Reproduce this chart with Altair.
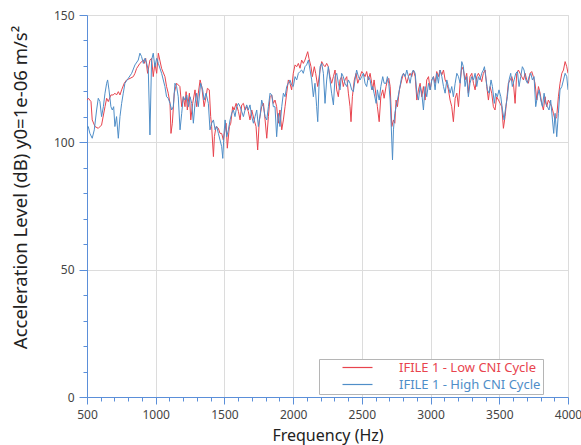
import altair as alt
import pandas as pd

LOW = "IFILE 1 - Low CNI Cycle"
HIGH = "IFILE 1 - High CNI Cycle"

# (frequency Hz, level dB)
low_cni = [
    (500, 116.5), (510, 117.3), (529, 116.0), (538, 108.8), (558, 106.2), (582, 105.5), (606, 106.8),
    (631, 114.0), (643, 117.3), (655, 116.0), (674, 118.6), (691, 118.6), (703, 119.3), (715, 118.6),
    (728, 119.9), (740, 118.6), (752, 120.6), (771, 123.2), (788, 124.5), (813, 125.1), (837, 125.8),
    (849, 127.1), (861, 129.0), (885, 131.0), (910, 132.3), (917, 131.0), (927, 133.0), (941, 127.1),
    (958, 132.3), (970, 133.0), (982, 125.8), (994, 131.0), (1007, 127.1), (1019, 135.0), (1043, 129.0),
    (1067, 125.8), (1079, 121.9), (1091, 119.3), (1104, 115.3), (1111, 103.5), (1121, 107.5), (1135, 119.3),
    (1152, 123.2), (1176, 121.9), (1189, 114.0), (1201, 117.9), (1213, 114.0), (1221, 119.9), (1230, 112.7),
    (1245, 119.3), (1255, 108.8), (1269, 115.3), (1286, 120.6), (1298, 114.0), (1310, 119.3), (1323, 124.5),
    (1335, 121.9), (1352, 114.0), (1366, 117.9), (1376, 121.2), (1390, 120.6), (1400, 110.1), (1407, 106.2),
    (1420, 94.4), (1427, 102.2), (1439, 106.2), (1456, 105.5), (1468, 103.5), (1480, 103.5), (1492, 100.9),
    (1512, 107.5), (1521, 97.7), (1536, 106.2), (1546, 107.5), (1560, 114.0), (1570, 112.7), (1585, 115.3),
    (1602, 112.1), (1614, 108.8), (1626, 114.7), (1638, 115.3), (1650, 112.7), (1662, 114.0), (1674, 112.1),
    (1686, 108.8), (1699, 112.7), (1716, 108.8), (1730, 106.2), (1742, 97.0), (1754, 108.8), (1771, 114.0),
    (1784, 115.3), (1796, 108.8), (1808, 101.6), (1820, 110.1), (1832, 117.9), (1844, 118.6), (1856, 115.3),
    (1868, 116.6), (1880, 114.0), (1892, 107.5), (1904, 112.7), (1917, 104.9), (1929, 108.8), (1941, 114.0),
    (1953, 119.3), (1965, 124.5), (1977, 123.2), (1989, 120.6), (2001, 127.1), (2014, 130.4), (2026, 129.7),
    (2038, 131.0), (2050, 129.1), (2062, 132.3), (2074, 131.0), (2086, 132.3), (2098, 134.3), (2106, 135.6),
    (2115, 133.0), (2130, 129.7), (2140, 125.8), (2154, 129.7), (2164, 127.1), (2179, 121.9), (2196, 128.4),
    (2208, 131.7), (2220, 130.4), (2232, 129.7), (2244, 131.0), (2256, 129.7), (2268, 125.8), (2280, 123.2),
    (2293, 125.8), (2305, 128.4), (2317, 120.6), (2329, 117.9), (2341, 124.5), (2353, 125.8), (2365, 121.9),
    (2377, 124.5), (2390, 125.8), (2402, 119.3), (2414, 114.0), (2421, 108.1), (2431, 117.9), (2445, 124.5),
    (2458, 127.1), (2470, 123.2), (2487, 125.8), (2499, 127.8), (2511, 127.1), (2523, 125.8), (2535, 127.8),
    (2547, 124.5), (2560, 127.1), (2572, 123.2), (2579, 120.6), (2589, 124.5), (2604, 117.9), (2613, 114.0),
    (2626, 108.1), (2638, 117.9), (2652, 120.6), (2662, 117.3), (2676, 121.9), (2686, 124.5), (2696, 125.1),
    (2706, 121.9), (2718, 106.2), (2730, 108.8), (2740, 107.5), (2749, 116.6), (2759, 114.0), (2773, 120.6),
    (2790, 124.5), (2803, 127.1), (2815, 125.8), (2827, 123.2), (2839, 125.8), (2851, 127.1), (2863, 125.8),
    (2875, 128.4), (2888, 125.8), (2900, 116.6), (2912, 120.6), (2924, 123.2), (2936, 117.9), (2948, 121.9),
    (2960, 116.6), (2972, 124.5), (2985, 125.8), (2997, 120.6), (3009, 124.5), (3021, 125.8), (3033, 123.2),
    (3045, 127.8), (3057, 125.8), (3069, 128.4), (3082, 126.5), (3094, 128.4), (3106, 124.5), (3118, 123.2),
    (3130, 120.6), (3142, 116.6), (3154, 114.0), (3166, 108.1), (3179, 117.3), (3191, 119.3), (3203, 114.0),
    (3215, 123.2), (3227, 129.7), (3239, 128.4), (3251, 124.5), (3263, 127.1), (3275, 119.3), (3287, 125.8),
    (3300, 127.1), (3312, 123.2), (3324, 120.6), (3336, 125.8), (3348, 127.1), (3360, 125.8), (3372, 123.8),
    (3384, 127.1), (3397, 128.4), (3409, 121.9), (3421, 116.6), (3433, 121.9), (3445, 119.3), (3457, 114.0),
    (3469, 112.7), (3481, 117.9), (3494, 116.6), (3506, 115.3), (3518, 114.0), (3530, 105.5), (3542, 110.1),
    (3554, 116.6), (3566, 123.2), (3579, 124.5), (3591, 125.8), (3603, 123.2), (3615, 115.3), (3627, 127.1),
    (3639, 128.4), (3651, 127.1), (3663, 125.8), (3676, 124.5), (3688, 127.1), (3700, 124.5), (3712, 123.2),
    (3724, 127.1), (3736, 127.8), (3748, 125.8), (3760, 123.2), (3773, 116.6), (3785, 121.9), (3797, 119.3),
    (3809, 115.3), (3821, 112.7), (3833, 117.9), (3845, 114.0), (3857, 116.6), (3870, 115.3), (3882, 114.0),
    (3894, 111.4), (3906, 108.8), (3918, 110.1), (3930, 117.9), (3942, 123.2), (3955, 127.1), (3967, 128.4),
    (3979, 131.7), (3991, 129.7), (4000, 127.1),
]

high_cni = [
    (500, 106.0), (509, 106.2), (521, 103.5), (538, 101.6), (553, 104.9), (570, 112.7), (582, 117.3),
    (594, 116.0), (606, 110.1), (619, 114.0), (631, 119.3), (643, 123.2), (650, 124.5), (660, 120.6),
    (674, 114.0), (684, 112.7), (694, 114.0), (703, 106.2), (715, 110.1), (728, 101.6), (740, 110.1),
    (752, 115.3), (764, 119.3), (776, 123.2), (800, 125.1), (825, 127.1), (849, 130.4), (873, 132.3),
    (885, 135.0), (897, 133.7), (910, 131.0), (922, 133.0), (934, 131.0), (946, 128.4), (958, 102.9),
    (970, 132.3), (982, 135.0), (994, 129.7), (1007, 133.0), (1019, 131.0), (1043, 127.1), (1067, 121.9),
    (1079, 117.9), (1091, 117.3), (1104, 115.3), (1116, 112.7), (1128, 114.0), (1140, 123.2), (1152, 121.9),
    (1164, 117.9), (1177, 104.9), (1189, 111.4), (1201, 117.9), (1213, 116.6), (1226, 118.6), (1238, 114.0),
    (1250, 117.9), (1262, 115.3), (1274, 107.5), (1286, 115.3), (1298, 119.3), (1310, 114.0), (1327, 123.2),
    (1342, 120.6), (1352, 116.6), (1366, 119.3), (1383, 115.3), (1395, 104.9), (1407, 107.5), (1420, 108.8),
    (1432, 104.9), (1444, 106.2), (1456, 103.5), (1468, 100.9), (1480, 98.3), (1488, 93.7), (1497, 103.5),
    (1505, 108.8), (1517, 102.2), (1529, 104.9), (1541, 108.8), (1553, 111.4), (1565, 112.7), (1577, 110.1),
    (1589, 114.0), (1602, 115.3), (1614, 114.0), (1626, 112.1), (1638, 110.1), (1650, 112.7), (1662, 114.7),
    (1674, 112.7), (1686, 114.7), (1699, 110.1), (1711, 107.5), (1723, 110.1), (1735, 112.7), (1747, 106.2),
    (1759, 110.1), (1771, 116.6), (1784, 114.0), (1796, 110.1), (1808, 108.8), (1820, 114.0), (1832, 119.3),
    (1844, 118.6), (1856, 114.0), (1868, 114.0), (1880, 102.2), (1892, 111.4), (1904, 106.2), (1917, 114.0),
    (1929, 119.3), (1941, 117.9), (1953, 121.9), (1965, 123.2), (1977, 124.5), (1989, 122.5), (2001, 121.9),
    (2014, 125.8), (2026, 124.5), (2038, 127.1), (2050, 127.8), (2062, 128.4), (2074, 127.1), (2086, 129.7),
    (2098, 130.4), (2111, 132.3), (2123, 128.4), (2135, 124.5), (2147, 117.9), (2159, 123.2), (2171, 114.0),
    (2179, 108.1), (2188, 121.9), (2196, 129.7), (2208, 131.0), (2220, 127.1), (2232, 115.3), (2244, 124.5),
    (2256, 129.7), (2268, 124.5), (2280, 119.3), (2293, 114.7), (2305, 125.8), (2317, 127.1), (2329, 123.2),
    (2341, 120.6), (2353, 127.1), (2365, 125.8), (2377, 123.2), (2390, 121.9), (2402, 124.5), (2414, 123.2),
    (2426, 120.6), (2438, 119.9), (2450, 124.5), (2462, 128.4), (2475, 125.8), (2487, 124.5), (2499, 125.8),
    (2511, 127.1), (2523, 123.2), (2535, 121.9), (2547, 125.8), (2560, 124.5), (2572, 120.6), (2579, 121.9),
    (2589, 119.3), (2604, 115.3), (2613, 120.6), (2626, 116.6), (2638, 121.9), (2652, 125.8), (2662, 123.2),
    (2676, 123.2), (2686, 125.8), (2696, 123.2), (2706, 116.6), (2713, 107.5), (2723, 93.1), (2730, 104.9),
    (2740, 111.4), (2749, 114.0), (2759, 116.6), (2773, 120.6), (2790, 125.8), (2803, 127.1), (2815, 125.8),
    (2827, 128.4), (2839, 125.8), (2851, 123.2), (2863, 127.1), (2875, 128.4), (2888, 127.1), (2900, 119.3),
    (2912, 116.6), (2924, 121.9), (2936, 119.3), (2948, 112.7), (2960, 121.9), (2972, 117.9), (2985, 123.2),
    (2997, 120.6), (3009, 124.5), (3021, 125.8), (3033, 120.6), (3045, 127.1), (3057, 123.2), (3069, 128.4),
    (3082, 125.8), (3094, 121.9), (3106, 119.3), (3118, 124.5), (3130, 121.9), (3142, 119.3), (3154, 121.9),
    (3166, 117.9), (3179, 123.2), (3191, 127.1), (3203, 125.8), (3215, 123.2), (3227, 131.7), (3239, 129.7),
    (3251, 121.9), (3263, 125.8), (3275, 117.9), (3287, 123.2), (3300, 125.8), (3312, 124.5), (3324, 127.1),
    (3336, 121.9), (3348, 125.8), (3360, 124.5), (3372, 127.1), (3384, 128.4), (3392, 129.7), (3401, 125.8),
    (3414, 120.6), (3426, 119.3), (3440, 124.5), (3450, 121.9), (3464, 115.3), (3474, 119.3), (3486, 117.9),
    (3498, 120.6), (3511, 117.9), (3523, 112.7), (3535, 108.8), (3547, 114.0), (3559, 117.9), (3571, 124.5),
    (3583, 127.1), (3595, 121.9), (3608, 124.5), (3620, 127.1), (3632, 127.8), (3644, 121.9), (3656, 125.8),
    (3668, 129.7), (3680, 128.4), (3693, 124.5), (3705, 123.2), (3717, 125.8), (3729, 127.1), (3741, 124.5),
    (3753, 125.8), (3765, 114.0), (3777, 117.9), (3790, 120.6), (3802, 116.6), (3814, 114.0), (3826, 119.3),
    (3838, 115.3), (3850, 114.0), (3862, 112.7), (3874, 116.6), (3887, 108.8), (3896, 103.5), (3906, 111.4),
    (3918, 102.2), (3930, 111.4), (3942, 120.6), (3955, 121.9), (3967, 124.5), (3979, 127.1), (3991, 125.8),
    (4000, 120.6),
]

series_names = [LOW, HIGH]
series_colors = ["#e8444e", "#4f8ec8"]
x_tick_values = list(range(500, 4001, 100))
y_tick_values = list(range(0, 151, 10))

rows = [{"freq": f, "db": d, "series": LOW} for f, d in low_cni] + \
       [{"freq": f, "db": d, "series": HIGH} for f, d in high_cni]
df = pd.DataFrame(rows)

AXIS_BLUE = "#5b8fd9"
FONT = "Noto Sans"

def major(step, yes, no):
    return {"condition": {"test": f"datum.value % {step} === 0", "value": yes}, "value": no}

x_axis = alt.Axis(
    title="Frequency (Hz)", values=x_tick_values, format="d",
    labelExpr="datum.value % 500 === 0 ? datum.label : ''",
    tickSize=major(500, 7, 4), gridOpacity=major(500, 1, 0),
    domainColor=AXIS_BLUE, tickColor=AXIS_BLUE, gridColor="#dcdcdc",
    labelFont=FONT, labelFontSize=12, labelColor="#444444", labelPadding=5,
    labelFlush=False, labelOverlap=False,
    titleFont=FONT, titleFontSize=16, titleFontWeight="normal", titleColor="#222222",
    titleY=38.5, titleBaseline="middle",
)
y_axis = alt.Axis(
    title="Acceleration Level (dB) y0=1e-06 m/s²", values=y_tick_values, format="d",
    labelExpr="datum.value % 50 === 0 ? datum.label : ''",
    tickSize=major(50, 8, 4), gridOpacity=major(50, 1, 0),
    domainColor=AXIS_BLUE, tickColor=AXIS_BLUE, gridColor="#dcdcdc",
    labelFont=FONT, labelFontSize=12, labelColor="#444444", labelPadding=5,
    labelFlush=False, labelOverlap=False,
    titleFont=FONT, titleFontSize=18.5, titleFontWeight="normal", titleColor="#222222",
    titleX=-67, titleY=172, titleAngle=270, titleAlign="center", titleBaseline="middle",
)

legend = alt.Legend(
    title=None, orient="none", legendX=232, legendY=344, direction="vertical",
    symbolType="M-3,0H3", symbolSize=100, symbolStrokeWidth=1.2, symbolOffset=30,
    labelOffset=35, labelFont=FONT, labelFontSize=13,
    labelColor=alt.expr(f"datum.label === '{LOW}' ? '{series_colors[0]}' : '{series_colors[1]}'"),
    labelExpr="datum.label + '\u00a0\u00a0\u00a0\u00a0\u00a0\u00a0'",
    strokeColor="#b5b5b5", fillColor="white", padding=2, rowPadding=3,
)

chart = alt.Chart(df).mark_line(strokeWidth=1, clip=True).encode(
    x=alt.X("freq:Q", scale=alt.Scale(domain=[500, 4000], nice=False, zero=False), axis=x_axis),
    y=alt.Y("db:Q", scale=alt.Scale(domain=[0, 150], nice=False), axis=y_axis),
    color=alt.Color("series:N", scale=alt.Scale(domain=series_names, range=series_colors),
                    sort=series_names, legend=legend),
).properties(
    width=481, height=382,
    autosize=alt.AutoSizeParams(type="none"),
    padding={"left": 87, "top": 15, "right": 13, "bottom": 48},
).configure_view(stroke="#d4d4d4").configure(background="white")

chart.save("out.html", embed_options={"renderer": "svg", "actions": False})
